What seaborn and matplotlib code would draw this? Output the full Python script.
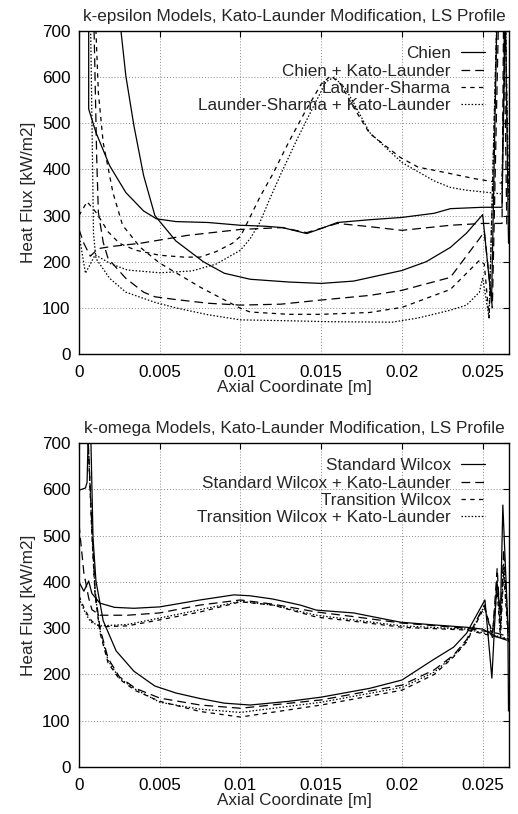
import matplotlib
matplotlib.use("Agg")
import matplotlib.pyplot as plt
import seaborn as sns

# ---- k-epsilon panel (two wall branches per model) ----
chien_a_x = [0.0006, 0.0006, 0.00105, 0.0019, 0.0029, 0.004, 0.0048, 0.006, 0.008, 0.01, 0.0115,
             0.0126, 0.0141, 0.015, 0.016, 0.018, 0.02, 0.022, 0.023, 0.025, 0.0262, 0.0264, 0.0266]
chien_a_y = [760, 531, 480, 408, 350, 310, 293, 287, 285, 279, 277,
             274, 261, 272, 285, 291, 296, 305, 315, 318, 318, 760, 240]
chien_b_x = [0.0025, 0.0026, 0.0029, 0.0034, 0.004, 0.0047, 0.006, 0.0077, 0.009, 0.0106, 0.013,
             0.015, 0.017, 0.02, 0.0215, 0.023, 0.024, 0.025, 0.02555, 0.0259]
chien_b_y = [760, 700, 603, 495, 387, 300, 245, 200, 175, 162, 156,
             153, 158, 181, 200, 231, 262, 302, 112, 760]

chkl_a_x = [0, 0.0003, 0.0007, 0.001, 0.0013, 0.002, 0.0038, 0.0067, 0.01, 0.0126, 0.0141,
            0.016, 0.018, 0.02, 0.023, 0.025, 0.0262, 0.0263, 0.0265]
chkl_a_y = [270, 240, 212, 222, 229, 233, 240, 257, 270, 274, 263,
            283, 276, 268, 279, 283, 283, 760, 270]
chkl_b_x = [0.0009, 0.0011, 0.0012, 0.0015, 0.0018, 0.0029, 0.004, 0.0047, 0.006, 0.008, 0.01,
            0.0125, 0.015, 0.018, 0.02, 0.023, 0.0248, 0.0251, 0.0256, 0.026]
chkl_b_y = [760, 420, 307, 242, 207, 164, 134, 124, 118, 110, 106,
            108, 117, 127, 138, 166, 250, 265, 100, 760]

ls_a_x = [0, 0.0005, 0.0011, 0.0018, 0.0025, 0.0035, 0.005, 0.0065, 0.0075, 0.0085, 0.0095,
          0.01, 0.0105, 0.0112, 0.012, 0.013, 0.014, 0.015, 0.0156, 0.0162, 0.017, 0.018,
          0.0199, 0.021, 0.023, 0.0245, 0.0259, 0.0262, 0.0264, 0.0266]
ls_a_y = [300, 330, 305, 265, 240, 225, 214, 210, 210, 222, 240,
          255, 290, 340, 390, 460, 525, 585, 603, 585, 535, 478,
          426, 405, 391, 380, 372, 370, 760, 350]
ls_b_x = [0.001, 0.00105, 0.0012, 0.0015, 0.0021, 0.0027, 0.0038, 0.005, 0.0075, 0.01, 0.0106,
          0.013, 0.015, 0.018, 0.02, 0.023, 0.0248, 0.0251, 0.0254, 0.0259]
ls_b_y = [760, 700, 566, 458, 350, 279, 231, 197, 145, 99, 91,
          86, 86, 90, 101, 140, 203, 195, 78, 760]

lskl_a_x = [0, 0.0004, 0.001, 0.0015, 0.002, 0.003, 0.005, 0.007, 0.0085, 0.0095, 0.01,
            0.0106, 0.0112, 0.0118, 0.0125, 0.0135, 0.0145, 0.0153, 0.0158, 0.0165, 0.017,
            0.018, 0.02, 0.022, 0.023, 0.024, 0.0259, 0.0262, 0.0264, 0.0266]
lskl_a_y = [260, 175, 215, 205, 195, 182, 176, 180, 195, 215, 225,
            250, 285, 335, 390, 465, 535, 590, 600, 575, 545,
            480, 415, 375, 361, 355, 348, 347, 760, 330]
lskl_b_x = [0.0007, 0.0009, 0.00105, 0.0019, 0.0029, 0.0047, 0.006, 0.008, 0.01, 0.013, 0.0155,
            0.0194, 0.021, 0.023, 0.024, 0.0248, 0.025, 0.0254, 0.0259]
lskl_b_y = [760, 260, 207, 164, 134, 112, 100, 85, 74, 72, 70,
            69, 78, 95, 106, 134, 165, 78, 760]

# ---- k-omega panel ----
sw_a_x = [0, 0.0003, 0.0006, 0.0008, 0.0013, 0.0022, 0.0034, 0.005, 0.0075, 0.0096, 0.0106,
          0.012, 0.0137, 0.0147, 0.017, 0.0199, 0.022, 0.024, 0.025, 0.0259, 0.0265]
sw_a_y = [400, 380, 402, 375, 354, 345, 343, 346, 361, 372, 370,
          363, 350, 339, 333, 313, 307, 302, 298, 281, 274]
sw_b_x = [0, 0.0004, 0.0005, 0.0006, 0.0007, 0.00074, 0.00087, 0.00105, 0.0015, 0.0023, 0.0034,
          0.0047, 0.006, 0.0075, 0.009, 0.0106, 0.013, 0.015, 0.018, 0.02, 0.0219, 0.0232,
          0.024, 0.02514, 0.02557, 0.02588, 0.0261, 0.02625, 0.02656, 0.0266]
sw_b_y = [598, 603, 615, 760, 760, 700, 494, 402, 316, 251, 207,
          175, 160, 148, 138, 134, 142, 151, 170, 188, 231, 259,
          289, 361, 192, 402, 330, 566, 307, 121]

up_x = [0, 0.0003, 0.0006, 0.0008, 0.0013, 0.003, 0.005, 0.0075, 0.01, 0.012, 0.0147,
        0.017, 0.02, 0.024, 0.0259, 0.0266]
swkl_a_y = [525, 420, 365, 340, 328, 328, 333, 350, 361, 352, 335,
            325, 311, 300, 289, 282]
tw_a_y = [370, 345, 325, 315, 303, 305, 318, 335, 357, 350, 324,
          315, 302, 296, 281, 275]
twkl_a_y = [365, 340, 320, 312, 305, 308, 322, 340, 358, 350, 328,
            318, 305, 298, 283, 277]

low_x = [0.0005, 0.0008, 0.001, 0.0013, 0.0018, 0.0025, 0.0035, 0.005, 0.0075, 0.01, 0.015,
         0.02, 0.022, 0.0232, 0.024, 0.0251, 0.0256, 0.0259, 0.0261, 0.0263, 0.0266]
swkl_b_y = [760, 520, 380, 300, 235, 195, 170, 149, 134, 127, 145,
            177, 210, 242, 275, 350, 280, 430, 300, 470, 285]
tw_b_y = [760, 500, 370, 290, 225, 190, 165, 142, 120, 108, 134,
          166, 200, 238, 270, 345, 290, 380, 280, 420, 270]
twkl_b_y = [760, 510, 375, 295, 230, 192, 168, 140, 125, 118, 140,
            172, 205, 240, 272, 348, 285, 400, 290, 440, 280]

xticks = [0, 0.005, 0.01, 0.015, 0.02, 0.025]
xtick_labels = ["0", "0.005", "0.01", "0.015", "0.02", "0.025"]
yticks = [0, 100, 200, 300, 400, 500, 600, 700]

solid = "-"
longdash = (0, (7, 4))
shortdash = (0, (3.5, 3.5))
dotted = (0, (1.2, 1.5))
fs = 12.3

sns.set_style("white")
plt.rcParams["font.family"] = ["Liberation Sans", "DejaVu Sans"]

fig = plt.figure(figsize=(5.18, 8.14), dpi=100)
ax1 = fig.add_axes([0.1525, 0.5651, 0.8301, 0.3968])
ax2 = fig.add_axes([0.1525, 0.0577, 0.8301, 0.3980])


def curve(ax, xs, ys, ls, label=None):
    sns.lineplot(x=xs, y=ys, ax=ax, color="black", lw=0.9, linestyle=ls,
                 sort=False, estimator=None, label=label)


curve(ax1, chien_a_x, chien_a_y, solid, "Chien")
curve(ax1, chien_b_x, chien_b_y, solid)
curve(ax1, chkl_a_x, chkl_a_y, longdash, "Chien + Kato-Launder")
curve(ax1, chkl_b_x, chkl_b_y, longdash)
curve(ax1, ls_a_x, ls_a_y, shortdash, "Launder-Sharma")
curve(ax1, ls_b_x, ls_b_y, shortdash)
curve(ax1, lskl_a_x, lskl_a_y, dotted, "Launder-Sharma + Kato-Launder")
curve(ax1, lskl_b_x, lskl_b_y, dotted)

curve(ax2, sw_a_x, sw_a_y, solid, "Standard Wilcox")
curve(ax2, sw_b_x, sw_b_y, solid)
curve(ax2, up_x, swkl_a_y, longdash, "Standard Wilcox + Kato-Launder")
curve(ax2, low_x, swkl_b_y, longdash)
curve(ax2, up_x, tw_a_y, shortdash, "Transition Wilcox")
curve(ax2, low_x, tw_b_y, shortdash)
curve(ax2, up_x, twkl_a_y, dotted, "Transition Wilcox + Kato-Launder")
curve(ax2, low_x, twkl_b_y, dotted)

titles = ["k-epsilon Models, Kato-Launder Modification, LS Profile",
          "k-omega Models, Kato-Launder Modification, LS Profile"]

for ax, title in zip([ax1, ax2], titles):
    ax.set_xlim(0, 0.02663)
    ax.set_ylim(0, 700)
    ax.set_xticks(xticks)
    ax.set_xticklabels(xtick_labels)
    ax.set_yticks(yticks)
    ax.grid(True, linestyle=(0, (1, 2)), color="#888888", lw=0.7)
    ax.tick_params(direction="in", top=True, right=True, length=4, width=0.8,
                   labelsize=fs, pad=6, colors="black")
    ax.tick_params(axis="x", pad=8)
    for sp in ax.spines.values():
        sp.set_color("black")
        sp.set_linewidth(1.0)
    ax.set_xlabel("Axial Coordinate [m]", fontsize=fs, labelpad=0)
    ax.set_ylabel("Heat Flux [kW/m2]", fontsize=fs, labelpad=4)
    ax.set_title(title, fontsize=fs, pad=7.5)
    ax.legend(loc="upper right", bbox_to_anchor=(0.944, 0.953), frameon=False,
              markerfirst=False, fontsize=fs, handlelength=1.4, handletextpad=0.6,
              labelspacing=0.14, borderpad=0, borderaxespad=0)

fig.savefig("out.png", dpi=100)
